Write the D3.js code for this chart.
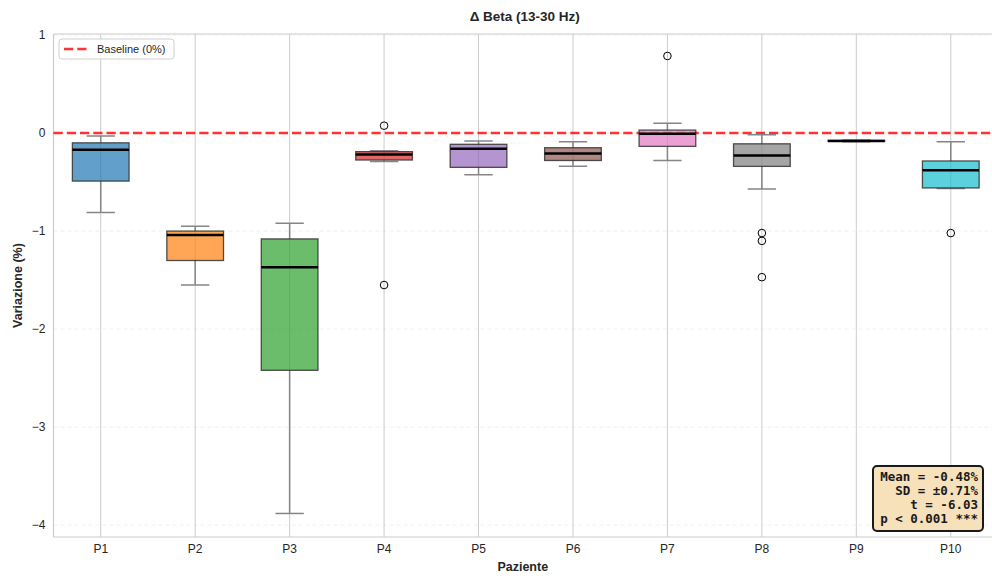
<!DOCTYPE html>
<html>
<head>
<meta charset="utf-8">
<script src="https://cdn.jsdelivr.net/npm/d3@7"></script>
<style>
  html, body { margin: 0; padding: 0; background: #fff; }
  svg { display: block; font-family: "Liberation Sans", Arial, sans-serif; }
</style>
</head>
<body>
<svg id="chart" width="992" height="576"></svg>
<script>
// Patients and box-plot summaries of the beta-band change (%)
const patients   = ["P1","P2","P3","P4","P5","P6","P7","P8","P9","P10"];
const whiskerLow = [-0.81, -1.55, -3.88, -0.29, -0.425, -0.34, -0.28, -0.57, -0.09, -0.565];
const q1         = [-0.49, -1.30, -2.42, -0.275, -0.35, -0.28, -0.136, -0.34, -0.085, -0.56];
const medians    = [-0.17, -1.04, -1.37, -0.22, -0.16, -0.21, -0.007, -0.23, -0.08, -0.38];
const q3         = [-0.10, -1.00, -1.08, -0.19, -0.115, -0.15, 0.03, -0.11, -0.075, -0.285];
const whiskerHigh= [-0.03, -0.95, -0.92, -0.18, -0.08, -0.09, 0.10, -0.017, -0.07, -0.09];
const outliers   = [[], [], [], [0.075, -1.55], [], [], [0.786], [-1.02, -1.10, -1.47], [], [-1.02]];
const boxColors  = ["#1f77b4","#ff7f0e","#2ca02c","#d62728","#9467bd","#8c564b","#e377c2","#7f7f7f","#bcbd22","#17becf"];
const yTicks     = [1, 0, -1, -2, -3, -4];
const statsLines = ["Mean = -0.48%", "SD = ±0.71%", "t = -6.03", "p < 0.001 ***"];

const svg = d3.select("#chart");
const plot = { left: 53.5, right: 998, top: 34, bottom: 537 };

const x = d3.scaleLinear().domain([0.5, 10.5]).range([plot.left, plot.right]);
const y = d3.scaleLinear().domain([-4.12, 1.01]).range([plot.bottom, plot.top]);
const step = x(2) - x(1);
const boxW = 0.6 * step;

svg.append("clipPath").attr("id", "clip")
  .append("rect").attr("x", plot.left).attr("y", plot.top)
  .attr("width", plot.right - plot.left).attr("height", plot.bottom - plot.top);

const g = svg.append("g");

// horizontal grid (dashed, faint)
g.append("g").selectAll("line").data(yTicks).join("line")
  .attr("x1", plot.left).attr("x2", plot.right)
  .attr("y1", d => y(d)).attr("y2", d => y(d))
  .attr("stroke", "#e2e2e2").attr("stroke-width", 0.8)
  .attr("stroke-dasharray", "4,3").attr("opacity", 0.6);

// vertical grid at each patient
g.append("g").selectAll("line").data(patients).join("line")
  .attr("x1", (d, i) => x(i + 1)).attr("x2", (d, i) => x(i + 1))
  .attr("y1", plot.top).attr("y2", plot.bottom)
  .attr("stroke", "#cccccc").attr("stroke-width", 1);

// spines
const spine = g.append("g").attr("fill", "none").attr("stroke", "#cccccc").attr("stroke-width", 1.2);
spine.append("line").attr("x1", plot.left).attr("x2", plot.left).attr("y1", plot.top).attr("y2", plot.bottom);
spine.append("line").attr("x1", plot.left).attr("x2", plot.right).attr("y1", plot.top).attr("y2", plot.top);
spine.append("line").attr("x1", plot.left).attr("x2", plot.right).attr("y1", plot.bottom).attr("y2", plot.bottom);

// baseline at 0 %
g.append("line")
  .attr("x1", plot.left).attr("x2", plot.right)
  .attr("y1", y(0)).attr("y2", y(0))
  .attr("stroke", "#ff0000").attr("stroke-opacity", 0.8)
  .attr("stroke-width", 2.5).attr("stroke-dasharray", "9.25,4");

// boxes
const boxes = g.append("g").attr("clip-path", "url(#clip)")
  .selectAll("g").data(patients).join("g");

boxes.each(function(d, i) {
  const sel = d3.select(this);
  const cx = x(i + 1);
  // whiskers
  sel.append("line").attr("x1", cx).attr("x2", cx)
    .attr("y1", y(q1[i])).attr("y2", y(whiskerLow[i]))
    .attr("stroke", "#858585").attr("stroke-width", 1.5);
  sel.append("line").attr("x1", cx).attr("x2", cx)
    .attr("y1", y(q3[i])).attr("y2", y(whiskerHigh[i]))
    .attr("stroke", "#858585").attr("stroke-width", 1.5);
  [whiskerLow[i], whiskerHigh[i]].forEach(v => {
    sel.append("line").attr("x1", cx - boxW / 4).attr("x2", cx + boxW / 4)
      .attr("y1", y(v)).attr("y2", y(v))
      .attr("stroke", "#858585").attr("stroke-width", 1.5);
  });
  // box body
  sel.append("rect")
    .attr("x", cx - boxW / 2).attr("width", boxW)
    .attr("y", y(q3[i])).attr("height", Math.max(0.5, y(q1[i]) - y(q3[i])))
    .attr("fill", boxColors[i]).attr("fill-opacity", 0.7)
    .attr("stroke", "#333333").attr("stroke-opacity", 0.85).attr("stroke-width", 1.3);
  // median
  sel.append("line").attr("x1", cx - boxW / 2).attr("x2", cx + boxW / 2)
    .attr("y1", y(medians[i])).attr("y2", y(medians[i]))
    .attr("stroke", "#000").attr("stroke-width", 2.5);
  // outliers
  sel.selectAll("circle").data(outliers[i]).join("circle")
    .attr("cx", cx).attr("cy", v => y(v)).attr("r", 3.8)
    .attr("fill", "none").attr("stroke", "#000").attr("stroke-width", 1);
});

// y tick labels
svg.append("g").selectAll("text").data(yTicks).join("text")
  .attr("x", plot.left - 8).attr("y", d => y(d)).attr("dy", "0.35em")
  .attr("text-anchor", "end").attr("font-size", 12).attr("fill", "#262626")
  .text(d => d < 0 ? "\u2212" + Math.abs(d) : String(d));

// x tick labels
svg.append("g").selectAll("text").data(patients).join("text")
  .attr("x", (d, i) => x(i + 1)).attr("y", 553)
  .attr("text-anchor", "middle").attr("font-size", 12).attr("fill", "#262626")
  .text(d => d);

// axis titles
svg.append("text").attr("x", (plot.left + 992) / 2).attr("y", 571)
  .attr("text-anchor", "middle").attr("font-size", 12.5).attr("font-weight", "bold")
  .attr("fill", "#262626").text("Paziente");
svg.append("text").attr("transform", `translate(22,${(plot.top + plot.bottom) / 2}) rotate(-90)`)
  .attr("text-anchor", "middle").attr("font-size", 12.5).attr("font-weight", "bold")
  .attr("fill", "#262626").text("Variazione (%)");

// chart title
svg.append("text").attr("x", (plot.left + 992) / 2 + 2).attr("y", 21)
  .attr("text-anchor", "middle").attr("font-size", 13.5).attr("font-weight", "bold")
  .attr("fill", "#262626").text("\u0394 Beta (13-30 Hz)");

// legend
const leg = svg.append("g").attr("transform", "translate(59,39)");
leg.append("rect").attr("width", 115).attr("height", 20).attr("rx", 3)
  .attr("fill", "#fff").attr("fill-opacity", 0.8)
  .attr("stroke", "#d0d0d0").attr("stroke-width", 1);
leg.append("line").attr("x1", 5).attr("x2", 29).attr("y1", 10).attr("y2", 10)
  .attr("stroke", "#ff0000").attr("stroke-opacity", 0.8)
  .attr("stroke-width", 2.5).attr("stroke-dasharray", "9.25,4");
leg.append("text").attr("x", 38).attr("y", 10).attr("dy", "0.35em")
  .attr("font-size", 11).attr("fill", "#262626").text("Baseline (0%)");

// statistics box
const st = svg.append("g");
st.append("rect").attr("x", 873).attr("y", 466).attr("width", 110).attr("height", 65).attr("rx", 4)
  .attr("fill", "#f5deb3").attr("fill-opacity", 0.9)
  .attr("stroke", "#1a1a1a").attr("stroke-width", 2);
st.selectAll("text").data(statsLines).join("text")
  .attr("x", 978).attr("y", (d, i) => 476.7 + i * 13.9).attr("dy", "0.35em")
  .attr("text-anchor", "end")
  .attr("font-family", "'DejaVu Sans Mono', monospace").attr("font-weight", "bold")
  .attr("font-size", 12.5).attr("fill", "#1a1a1a")
  .text(d => d);
</script>
</body>
</html>
